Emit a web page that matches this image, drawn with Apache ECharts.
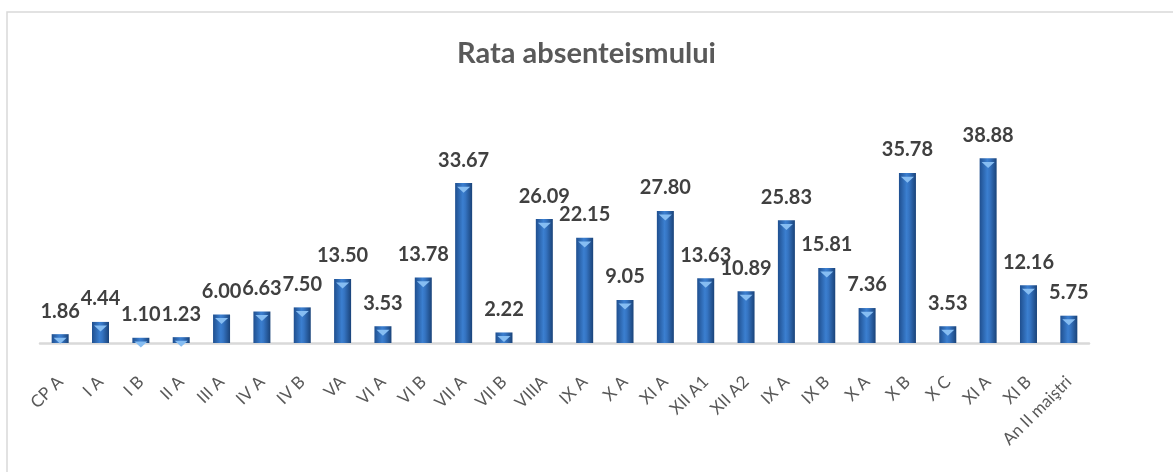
<!DOCTYPE html>
<html>
<head>
<meta charset="utf-8">
<script src="https://cdn.jsdelivr.net/npm/echarts@6/dist/echarts.min.js"></script>
<style>
  html, body { margin: 0; padding: 0; background: #fff; }
  #echart { width: 1173px; height: 472px; }
</style>
</head>
<body>
<div id="echart"></div>
<script>
// clase
var classes = ['CP A', 'I A', 'I B', 'II A', 'III A', 'IV A', 'IV B', 'VA', 'VI A', 'VI B',
    'VII A', 'VII B', 'VIIIA', 'IX A', 'X A', 'XI A', 'XII A1', 'XII A2', 'IX A', 'IX B',
    'X A', 'X B', 'X C', 'XI A', 'XI B', 'An II maiştri'];
// rata absenteismului
var rates = [1.86, 4.44, 1.10, 1.23, 6.00, 6.63, 7.50, 13.50, 3.53, 13.78,
    33.67, 2.22, 26.09, 22.15, 9.05, 27.80, 13.63, 10.89, 25.83, 15.81,
    7.36, 35.78, 3.53, 38.88, 12.16, 5.75];

var chartTitle = 'Rata absenteismului';

var dom = document.getElementById('echart');
var myChart = echarts.init(dom);

var option = {
    animation: false,
    title: {
        text: chartTitle,
        left: 'center',
        top: 34,
        textStyle: {
            fontFamily: 'Lato',
            fontSize: 29,
            fontWeight: 'bold',
            color: '#595959'
        }
    },
    graphic: [{
        type: 'rect',
        shape: { x: 7, y: 12, width: 1300, height: 600 },
        style: { fill: 'none', stroke: '#d9d9d9', lineWidth: 1.5 },
        silent: true
    }],
    grid: {
        left: 40,
        right: 84,
        top: 153,
        bottom: 129
    },
    xAxis: {
        type: 'category',
        data: classes,
        axisLine: { lineStyle: { color: '#d9d9d9', width: 2.5 } },
        axisTick: { show: false },
        axisLabel: {
            rotate: 45,
            interval: 0,
            margin: 36,
            fontFamily: 'Lato',
            fontSize: 17,
            color: '#595959'
        }
    },
    yAxis: {
        type: 'value',
        min: 0,
        max: 40,
        show: false,
        splitLine: { show: false }
    },
    series: [{
        type: 'bar',
        data: rates,
        barWidth: 17,
        itemStyle: {
            color: new echarts.graphic.LinearGradient(0, 0, 1, 0, [
                { offset: 0, color: '#1f4f8f' },
                { offset: 0.45, color: '#3b7fd0' },
                { offset: 0.6, color: '#3574c2' },
                { offset: 1, color: '#1a4379' }
            ])
        },
        label: {
            show: true,
            position: 'top',
            distance: 13,
            formatter: function (p) { return p.value.toFixed(2); },
            fontFamily: 'Lato',
            fontSize: 20,
            fontWeight: 'bold',
            color: '#404040'
        }
    }, {
        // reflexul deschis din varful coloanei
        type: 'pictorialBar',
        data: rates,
        symbol: 'triangle',
        symbolRotate: 180,
        symbolSize: [13, 6],
        symbolPosition: 'end',
        symbolOffset: [0, '60%'],
        itemStyle: { color: '#86bdf2' },
        z: 3,
        silent: true
    }]
};

myChart.setOption(option);
</script>
</body>
</html>
